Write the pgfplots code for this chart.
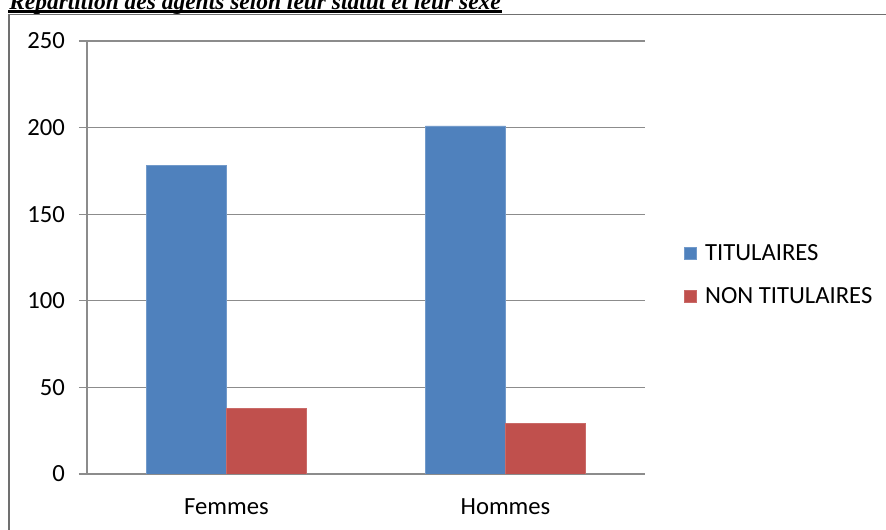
\documentclass[border=0pt]{standalone}
\usepackage{pgfplots}
\pgfplotsset{compat=1.18}
\usepackage{fontspec}
\setmainfont{Carlito}
\newfontfamily\titlefont{Liberation Serif}

\definecolor{titu}{HTML}{4F81BD}
\definecolor{nontitu}{HTML}{C0504D}
\definecolor{gridgray}{HTML}{8C8C8C}

\begin{document}
\begin{tikzpicture}
  % page area: 886 x 530 px at 0.75pt per px
  \useasboundingbox (0pt,0pt) rectangle (664.5pt,-397.5pt);
  \begin{scope}[x=0.75pt,y=-0.75pt]
    % heading (partly above the page) and its underline
    \node[anchor=base west, inner sep=0pt, font=\titlefont\bfseries\itshape\fontsize{17.6}{20}\selectfont]
      at (9,9.5) {Répartition des agents selon leur statut et leur sexe};
    \draw[black, line width=2.2pt] (8,11.5) -- (502,11.5);
    % chart frame
    \draw[gridgray!80!black, line width=0.9pt] (9,545) -- (9,14.5) -- (900,14.5);
  \end{scope}

  \begin{axis}[
    at={(65.25pt,-355.5pt)}, anchor=south west,
    scale only axis,
    width=418.5pt, height=324.75pt,
    ymin=0, ymax=250,
    xmin=-0.5, xmax=1.5,
    ytick={0,50,...,250},
    xtick={0,1}, xticklabels={Femmes,Hommes},
    extra x ticks={-0.5,0.5,1.5}, extra x tick labels={},
    extra x tick style={major tick length=6pt, tick style={gridgray, line width=0.8pt}, grid=none},
    axis x line*=bottom, axis y line*=left,
    axis line style={gridgray, line width=0.8pt, -},
    ymajorgrids, grid style={gridgray, line width=0.8pt},
    major x tick style={draw=none},
    major y tick style={gridgray, line width=0.8pt},
    tick align=outside, major tick length=6pt,
    y tick label style={font=\fontsize{18.5}{20}\selectfont, xshift=-7pt},
    x tick label style={font=\fontsize{18.5}{20}\selectfont, yshift=-9pt},
    /pgf/number format/assume math mode=true,
    ybar=0pt, bar width=0.287,
    legend style={at={(1.063,0.46)}, anchor=west, draw=none,
      font=\fontsize{18.5}{20}\selectfont, row sep=15pt,
      /tikz/every even column/.append style={column sep=2pt},
      /tikz/every odd column/.append style={column sep=4pt}},
    legend image code/.code={\fill[#1] (0pt,-4.5pt) rectangle (9pt,4.5pt);},
    legend cell align=left,
  ]
    \addplot[fill=titu, draw=titu!80!white, line width=0.5pt] coordinates {(0,178) (1,201)};
    \addplot[fill=nontitu, draw=nontitu!85!white, line width=0.5pt] coordinates {(0,38) (1,29)};
    \legend{TITULAIRES, NON TITULAIRES}
  \end{axis}
\end{tikzpicture}
\end{document}
